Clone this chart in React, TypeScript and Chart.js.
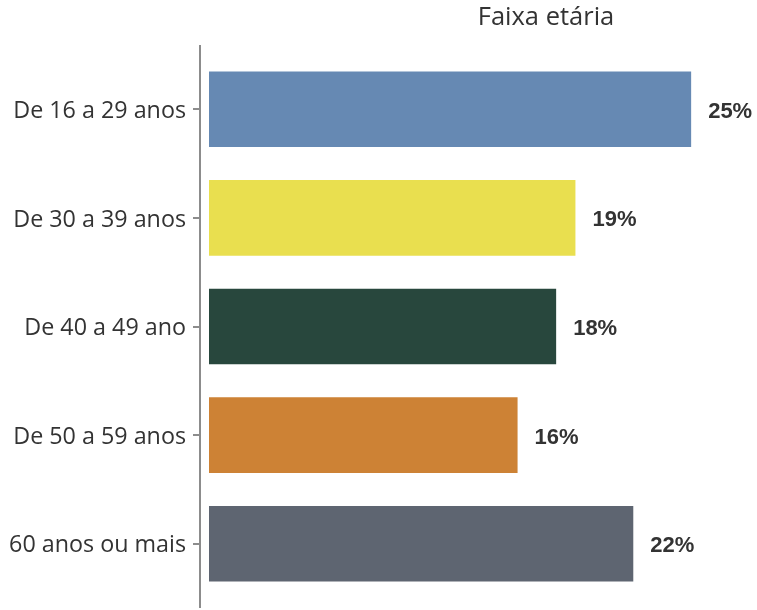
import React, { useEffect, useRef } from "react";
import { Chart, registerables } from "chart.js";

Chart.register(...registerables);

const categories = ["De 16 a 29 anos", "De 30 a 39 anos", "De 40 a 49 ano", "De 50 a 59 anos", "60 anos ou mais"];
const values = [25, 19, 18, 16, 22];
const barColors = ["#6689B3", "#E9DF4F", "#28473D", "#CD8235", "#5E6571"];
const titleText = "Faixa etária";

export default function App() {
  const ref = useRef<HTMLCanvasElement>(null);
  useEffect(() => {
    if (!ref.current) return;
    const valueLabels = {
      id: "valueLabels",
      afterDatasetsDraw(chart: any) {
        const ctx = chart.ctx;
        const meta = chart.getDatasetMeta(0);
        ctx.save();
        ctx.font = "bold 22px 'Liberation Sans', Arial, sans-serif";
        ctx.fillStyle = "#333333";
        ctx.textAlign = "left";
        ctx.textBaseline = "middle";
        meta.data.forEach((bar: any, i: number) => {
          ctx.fillText(values[i] + "%", bar.x + 17, bar.y + 2.5);
        });
        ctx.restore();
      },
    };
    const axisAndTitle = {
      id: "axisAndTitle",
      afterDraw(chart: any) {
        const ctx = chart.ctx;
        const a = chart.chartArea;
        ctx.save();
        ctx.strokeStyle = "#8C8C8C";
        ctx.lineWidth = 2;
        ctx.beginPath();
        ctx.moveTo(a.left, a.top - 10);
        ctx.lineTo(a.left, a.bottom + 10);
        ctx.stroke();
        ctx.font = "25.5px 'Open Sans', sans-serif";
        ctx.fillStyle = "#333333";
        ctx.textAlign = "center";
        ctx.textBaseline = "middle";
        ctx.fillText(titleText, 546, 18);
        ctx.restore();
      },
    };
    const chart = new Chart(ref.current, {
      type: "bar",
      data: {
        labels: categories,
        datasets: [
          {
            data: values,
            backgroundColor: barColors,
            borderWidth: 0,
            categoryPercentage: 1,
            barPercentage: 0.696,
          },
        ],
      },
      options: {
        indexAxis: "y",
        animation: false,
        responsive: false,
        maintainAspectRatio: false,
        layout: { padding: { top: 55, bottom: 12, right: 8, left: 0 } },
        plugins: { legend: { display: false }, tooltip: { enabled: false }, title: { display: false } },
        scales: {
          x: { display: false, min: -0.467, max: 28 },
          y: {
            afterFit(scale: any) {
              scale.width = 200;
              scale.paddingTop = 0;
              scale.paddingBottom = 0;
            },
            border: { display: false },
            grid: { display: true, drawOnChartArea: false, offset: false, tickLength: 7, color: "#8C8C8C", lineWidth: 2 },
            ticks: { color: "#333333", padding: 7, labelOffset: 2, font: { family: "'Open Sans', sans-serif", size: 23.3 } },
          },
        },
      },
      plugins: [valueLabels, axisAndTitle],
    });
    return () => chart.destroy();
  }, []);
  return (
    <div style={{ position: "absolute", left: 0, top: 0, width: 757, height: 610, background: "#fff" }}>
      <canvas ref={ref} width={757} height={610} style={{ width: 757, height: 610 }} />
    </div>
  );
}
